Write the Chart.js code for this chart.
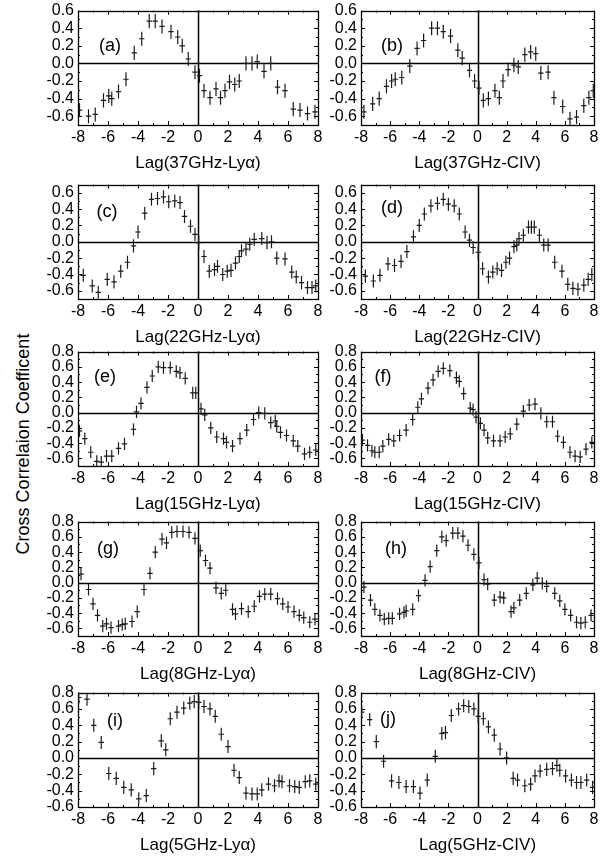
<!DOCTYPE html>
<html>
<head>
<meta charset="utf-8">
<script src="https://cdn.jsdelivr.net/npm/chart.js@4.4.0/dist/chart.umd.min.js"></script>
<style>
  body { margin: 0; background: #fff; width: 612px; height: 863px; position: relative; overflow: hidden; }
  canvas { position: absolute; }
  #ytitle {
    position: absolute; left: 23px; top: 444px; white-space: nowrap;
    transform: translate(-50%, -50%) rotate(-90deg);
    font: 18px "Liberation Sans", Arial, sans-serif; color: #000;
  }
</style>
</head>
<body>
<div id="ytitle">Cross Correlaion Coefficent</div>
<script>
const FONT = '"Liberation Sans", Arial, sans-serif';

// lag values (x) and cross correlation coefficients (y)
const lagA = [-7.9,-7.3,-6.85,-6.3,-5.95,-5.75,-5.3,-4.8,-4.25,-3.75,-3.25,-2.85,-2.4,-1.8,-1.35,-1.05,-0.65,-0.2,0.1,0.4,0.8,1.2,1.5,1.8,2.1,2.45,2.75,3.2,3.6,3.95,4.4,4.85,5.3,5.8,6.35,6.8,7.3,7.8];
const ccfA = [-0.53,-0.60,-0.58,-0.42,-0.37,-0.40,-0.32,-0.18,0.12,0.28,0.48,0.48,0.42,0.36,0.30,0.20,0.05,-0.10,-0.14,-0.31,-0.39,-0.29,-0.39,-0.31,-0.21,-0.24,-0.20,0.0,0.0,0.02,-0.09,0.0,-0.27,-0.31,-0.52,-0.53,-0.57,-0.55];
const lagB = [-7.8,-7.2,-6.75,-6.25,-5.9,-5.65,-5.2,-4.65,-4.15,-3.7,-3.15,-2.75,-2.35,-1.85,-1.35,-1.05,-0.55,-0.2,0.1,0.4,0.75,1.2,1.5,1.75,2.1,2.5,2.8,3.25,3.65,4.0,4.35,4.85,5.25,5.85,6.35,6.8,7.3,7.65,7.95];
const ccfB = [-0.55,-0.46,-0.40,-0.26,-0.20,-0.18,-0.16,-0.03,0.17,0.26,0.40,0.40,0.36,0.31,0.15,0.06,-0.08,-0.20,-0.28,-0.42,-0.40,-0.31,-0.39,-0.20,-0.07,-0.02,-0.04,0.10,0.13,0.11,-0.11,-0.10,-0.39,-0.49,-0.63,-0.61,-0.48,-0.39,-0.31];
const lagC = [-7.65,-7.05,-6.65,-6.05,-5.6,-5.15,-4.7,-4.3,-4.0,-3.55,-3.1,-2.7,-2.3,-1.95,-1.55,-1.2,-0.9,-0.5,-0.2,0.05,0.4,0.75,1.1,1.3,1.65,1.95,2.2,2.5,2.75,2.9,3.2,3.45,3.75,4.25,4.6,4.9,5.25,5.8,6.25,6.55,6.9,7.3,7.6,7.85];
const ccfC = [-0.41,-0.54,-0.62,-0.46,-0.49,-0.36,-0.25,-0.05,0.12,0.35,0.52,0.53,0.55,0.49,0.50,0.48,0.31,0.19,0.09,-0.01,-0.18,-0.36,-0.34,-0.30,-0.40,-0.36,-0.35,-0.26,-0.18,-0.11,-0.09,-0.03,0.03,0.04,-0.01,0.0,-0.20,-0.21,-0.37,-0.43,-0.50,-0.56,-0.56,-0.54];
const lagD = [-7.7,-7.15,-6.7,-6.15,-5.7,-5.25,-4.85,-4.4,-4.0,-3.65,-3.2,-2.75,-2.35,-2.0,-1.6,-1.25,-0.85,-0.55,-0.3,0.05,0.35,0.75,1.05,1.35,1.65,1.95,2.2,2.5,2.7,2.85,3.15,3.5,3.7,3.9,4.25,4.55,4.85,5.3,5.8,6.2,6.55,6.9,7.3,7.6,7.85];
const ccfD = [-0.42,-0.48,-0.41,-0.27,-0.29,-0.24,-0.12,0.06,0.20,0.34,0.44,0.47,0.52,0.46,0.44,0.34,0.12,0.02,-0.07,-0.13,-0.33,-0.43,-0.37,-0.33,-0.35,-0.25,-0.20,-0.06,-0.04,0.04,0.08,0.18,0.18,0.18,0.08,-0.04,-0.04,-0.25,-0.36,-0.52,-0.57,-0.58,-0.53,-0.46,-0.40];
const lagE = [-7.9,-7.55,-7.15,-6.75,-6.45,-6.1,-5.75,-5.3,-4.9,-4.3,-4.1,-3.8,-3.4,-3.05,-2.65,-2.3,-1.85,-1.45,-1.2,-0.85,-0.35,-0.15,0.2,0.45,0.85,1.25,1.7,1.9,2.3,2.8,3.25,3.7,4.05,4.45,4.85,5.15,5.25,5.5,5.9,6.35,6.65,7.1,7.45,7.85];
const ccfE = [-0.24,-0.34,-0.52,-0.64,-0.65,-0.57,-0.57,-0.47,-0.41,-0.22,0.01,0.12,0.33,0.48,0.60,0.59,0.59,0.54,0.52,0.45,0.26,0.26,0.05,-0.03,-0.20,-0.32,-0.34,-0.39,-0.44,-0.34,-0.23,-0.09,0.0,-0.01,-0.13,-0.11,-0.18,-0.26,-0.30,-0.37,-0.44,-0.54,-0.52,-0.49];
const lagF = [-7.9,-7.55,-7.25,-7.05,-6.75,-6.5,-6.1,-5.75,-5.35,-4.9,-4.45,-4.1,-3.85,-3.4,-3.05,-2.7,-2.35,-1.9,-1.45,-1.25,-0.95,-0.5,-0.3,-0.1,0.2,0.45,0.7,1.1,1.55,1.9,2.25,2.7,3.15,3.55,3.95,4.35,4.75,5.15,5.5,5.9,6.35,6.7,7.05,7.45,7.85];
const ccfF = [-0.36,-0.43,-0.50,-0.52,-0.52,-0.44,-0.35,-0.37,-0.30,-0.23,-0.09,0.07,0.18,0.32,0.43,0.54,0.58,0.55,0.46,0.41,0.25,0.06,0.04,-0.06,-0.14,-0.23,-0.33,-0.37,-0.37,-0.32,-0.28,-0.15,0.02,0.10,0.11,-0.01,-0.12,-0.12,-0.31,-0.39,-0.52,-0.57,-0.58,-0.48,-0.39];
const lagG = [-7.8,-7.3,-7.0,-6.7,-6.35,-6.1,-5.8,-5.3,-5.05,-4.85,-4.4,-4.05,-3.6,-3.2,-2.85,-2.4,-2.1,-1.75,-1.4,-1.0,-0.6,-0.2,0.15,0.5,0.8,1.2,1.55,1.85,2.3,2.5,2.9,3.35,3.75,4.1,4.45,4.85,5.3,5.65,6.0,6.4,6.75,7.05,7.45,7.8];
const ccfG = [0.11,-0.09,-0.28,-0.43,-0.57,-0.54,-0.59,-0.57,-0.55,-0.54,-0.51,-0.38,-0.09,0.12,0.40,0.57,0.52,0.66,0.67,0.67,0.66,0.58,0.42,0.29,0.19,-0.07,-0.14,-0.10,-0.35,-0.41,-0.34,-0.38,-0.31,-0.18,-0.15,-0.15,-0.21,-0.28,-0.32,-0.38,-0.43,-0.46,-0.52,-0.48];
const lagH = [-7.8,-7.35,-7.05,-6.7,-6.4,-6.1,-5.85,-5.35,-5.05,-4.9,-4.45,-4.05,-3.6,-3.25,-2.8,-2.45,-2.15,-1.7,-1.35,-1.0,-0.65,-0.25,0.1,0.45,0.7,1.15,1.55,1.8,2.3,2.5,2.9,3.35,3.8,4.1,4.45,4.75,5.3,5.65,6.0,6.4,6.8,7.1,7.4,7.8];
const ccfH = [-0.06,-0.23,-0.35,-0.43,-0.48,-0.47,-0.47,-0.41,-0.39,-0.37,-0.35,-0.17,0.03,0.21,0.42,0.60,0.55,0.65,0.65,0.61,0.49,0.37,0.26,0.04,-0.02,-0.23,-0.19,-0.20,-0.38,-0.33,-0.23,-0.14,-0.03,0.06,-0.01,-0.05,-0.14,-0.24,-0.35,-0.43,-0.52,-0.53,-0.52,-0.43];
const lagI = [-7.95,-7.4,-6.95,-6.45,-5.95,-5.45,-4.95,-4.45,-3.95,-3.45,-2.95,-2.45,-2.15,-1.85,-1.4,-0.95,-0.55,-0.25,0.05,0.4,0.8,1.15,1.55,2.0,2.4,2.75,3.2,3.6,3.95,4.25,4.7,5.1,5.4,5.6,6.1,6.45,6.75,7.15,7.45,7.85];
const ccfI = [0.74,0.72,0.40,0.19,-0.19,-0.25,-0.36,-0.39,-0.50,-0.46,-0.13,0.21,0.10,0.48,0.56,0.61,0.67,0.69,0.68,0.63,0.60,0.51,0.29,0.14,-0.15,-0.24,-0.43,-0.44,-0.44,-0.39,-0.32,-0.34,-0.28,-0.29,-0.34,-0.35,-0.36,-0.29,-0.28,-0.32];
const lagJ = [-7.95,-7.4,-6.95,-6.45,-5.9,-5.4,-4.9,-4.4,-3.95,-3.45,-2.9,-2.45,-2.2,-1.8,-1.3,-0.95,-0.6,-0.25,0.05,0.4,0.75,1.15,1.55,2.0,2.45,2.75,3.25,3.65,3.95,4.3,4.75,5.15,5.45,5.65,6.05,6.45,6.8,7.1,7.5,7.9];
const ccfJ = [0.56,0.47,0.20,-0.04,-0.28,-0.30,-0.35,-0.35,-0.43,-0.27,0.02,0.30,0.31,0.52,0.60,0.64,0.63,0.60,0.51,0.48,0.38,0.28,0.11,0.0,-0.25,-0.27,-0.34,-0.32,-0.22,-0.16,-0.14,-0.13,-0.09,-0.15,-0.22,-0.27,-0.30,-0.30,-0.27,-0.36];

// axis ticks
const xTicks = [-8,-6,-4,-2,0,2,4,6,8];
const yTicksShort = [-0.6,-0.4,-0.2,0.0,0.2,0.4,0.6];
const yTicksLong = [-0.6,-0.4,-0.2,0.0,0.2,0.4,0.6,0.8];
const rowYMin = [-0.7,-0.7,-0.7,-0.7,-0.6];
const rowYMax = [0.6,0.7,0.8,0.8,0.8];
const rowYTicks = [yTicksShort, yTicksShort, yTicksLong, yTicksLong, yTicksLong];

const X_ERR = 0.18, Y_ERR = 0.08;

// layout (pixels)
const rowTop = [7,181,348,518,689];
const colLeft = [30,313], colWidth = [306,299];

const panels = [
  { lag: lagA, ccf: ccfA, name: '(a)', title: 'Lag(37GHz-Ly\u03B1)', row: 0, col: 0, pos: [32,35] },
  { lag: lagB, ccf: ccfB, name: '(b)', title: 'Lag(37GHz-CIV)',       row: 0, col: 1, pos: [31,35] },
  { lag: lagC, ccf: ccfC, name: '(c)', title: 'Lag(22GHz-Ly\u03B1)', row: 1, col: 0, pos: [29,27] },
  { lag: lagD, ccf: ccfD, name: '(d)', title: 'Lag(22GHz-CIV)',       row: 1, col: 1, pos: [31,23] },
  { lag: lagE, ccf: ccfE, name: '(e)', title: 'Lag(15GHz-Ly\u03B1)', row: 2, col: 0, pos: [27,25] },
  { lag: lagF, ccf: ccfF, name: '(f)', title: 'Lag(15GHz-CIV)',       row: 2, col: 1, pos: [22,25] },
  { lag: lagG, ccf: ccfG, name: '(g)', title: 'Lag(8GHz-Ly\u03B1)',  row: 3, col: 0, pos: [30,27] },
  { lag: lagH, ccf: ccfH, name: '(h)', title: 'Lag(8GHz-CIV)',        row: 3, col: 1, pos: [35,27] },
  { lag: lagI, ccf: ccfI, name: '(i)', title: 'Lag(5GHz-Ly\u03B1)',  row: 4, col: 0, pos: [37,28] },
  { lag: lagJ, ccf: ccfJ, name: '(j)', title: 'Lag(5GHz-CIV)',        row: 4, col: 1, pos: [27,26] }
];

// frame, zero lines, inward ticks, panel letter
const panelDecor = {
  id: 'panelDecor',
  beforeDatasetsDraw(chart) {
    const { ctx, chartArea: a, scales: { x, y } } = chart;
    ctx.save();
    ctx.strokeStyle = '#000';
    ctx.lineWidth = 1.5;
    ctx.beginPath();
    const y0 = Math.round(y.getPixelForValue(0)) + 0.5, x0 = Math.round(x.getPixelForValue(0)) + 0.5;
    ctx.moveTo(a.left, y0); ctx.lineTo(a.right, y0);
    ctx.moveTo(x0, a.top); ctx.lineTo(x0, a.bottom);
    ctx.stroke();
    ctx.restore();
  },
  afterDatasetsDraw(chart, args, opts) {
    const { ctx, chartArea: a, scales: { x, y } } = chart;
    ctx.save();
    ctx.strokeStyle = '#000';
    ctx.lineWidth = 1;
    ctx.beginPath();
    for (let v = x.min; v <= x.max + 1e-9; v += 1) {
      const px = Math.round(x.getPixelForValue(v)) + 0.5, len = (v % 2 === 0) ? 4 : 2;
      ctx.moveTo(px, a.bottom); ctx.lineTo(px, a.bottom - len);
      ctx.moveTo(px, a.top); ctx.lineTo(px, a.top + len);
    }
    for (let k = Math.ceil(y.min * 10 - 1e-6); k <= Math.floor(y.max * 10 + 1e-6); k++) {
      const py = Math.round(y.getPixelForValue(k / 10)) + 0.5, len = (k % 2 === 0) ? 4 : 2;
      ctx.moveTo(a.left, py); ctx.lineTo(a.left + len, py);
      ctx.moveTo(a.right, py); ctx.lineTo(a.right - len, py);
    }
    ctx.stroke();
    ctx.lineWidth = 1.3;
    ctx.strokeRect(Math.round(a.left) + 0.5, Math.round(a.top) + 0.5, Math.round(a.right - a.left), Math.round(a.bottom - a.top));
    ctx.fillStyle = '#000';
    ctx.font = '18px ' + FONT;
    ctx.textAlign = 'center';
    ctx.textBaseline = 'middle';
    ctx.fillText(opts.label, a.left + opts.pos[0], a.top + opts.pos[1]);
    ctx.restore();
  }
};

// each point is drawn as a cross of x and y error bars
const crossBars = {
  id: 'crossBars',
  afterDatasetsDraw(chart) {
    const { ctx, chartArea: a, scales: { x, y } } = chart;
    ctx.save();
    ctx.beginPath();
    ctx.rect(a.left, a.top, a.right - a.left, a.bottom - a.top);
    ctx.clip();
    ctx.strokeStyle = '#1a1a1a';
    ctx.lineWidth = 1.2;
    ctx.beginPath();
    chart.data.datasets[0].data.forEach(p => {
      const px = x.getPixelForValue(p.x), py = y.getPixelForValue(p.y);
      ctx.moveTo(x.getPixelForValue(p.x - X_ERR), py);
      ctx.lineTo(x.getPixelForValue(p.x + X_ERR), py);
      ctx.moveTo(px, y.getPixelForValue(p.y - Y_ERR));
      ctx.lineTo(px, y.getPixelForValue(p.y + Y_ERR));
    });
    ctx.stroke();
    ctx.restore();
  }
};

panels.forEach(p => {
  const cv = document.createElement('canvas');
  cv.width = colWidth[p.col];
  cv.height = 177;
  cv.style.left = colLeft[p.col] + 'px';
  cv.style.top = (rowTop[p.row] - 10) + 'px';
  document.body.appendChild(cv);

  new Chart(cv, {
    type: 'scatter',
    data: { datasets: [{ data: p.lag.map((v, i) => ({ x: v, y: p.ccf[i] })), pointRadius: 0, showLine: false }] },
    options: {
      responsive: false,
      animation: false,
      events: [],
      layout: { padding: { top: 10, right: 18, left: 0, bottom: 0 } },
      plugins: {
        legend: { display: false },
        tooltip: { enabled: false },
        panelDecor: { label: p.name, pos: p.pos }
      },
      scales: {
        x: {
          type: 'linear', min: -8, max: 8,
          grid: { display: false, drawTicks: false },
          border: { display: false },
          afterBuildTicks: s => { s.ticks = xTicks.map(v => ({ value: v })); },
          afterFit: s => { s.height = 49; },
          ticks: { color: '#000', font: { size: 16, family: FONT }, padding: 3, autoSkip: false, maxRotation: 0, callback: v => String(v) },
          title: { display: true, text: p.title, color: '#000', font: { size: 17, family: FONT }, padding: 0 }
        },
        y: {
          type: 'linear', min: rowYMin[p.row], max: rowYMax[p.row],
          grid: { display: false, drawTicks: false },
          border: { display: false },
          afterBuildTicks: s => { s.ticks = rowYTicks[p.row].map(v => ({ value: v })); },
          afterFit: s => { s.width = 48; },
          ticks: { color: '#000', font: { size: 16, family: FONT }, padding: 4, autoSkip: false, callback: v => v.toFixed(1) }
        }
      }
    },
    plugins: [panelDecor, crossBars]
  });
});
</script>
</body>
</html>
